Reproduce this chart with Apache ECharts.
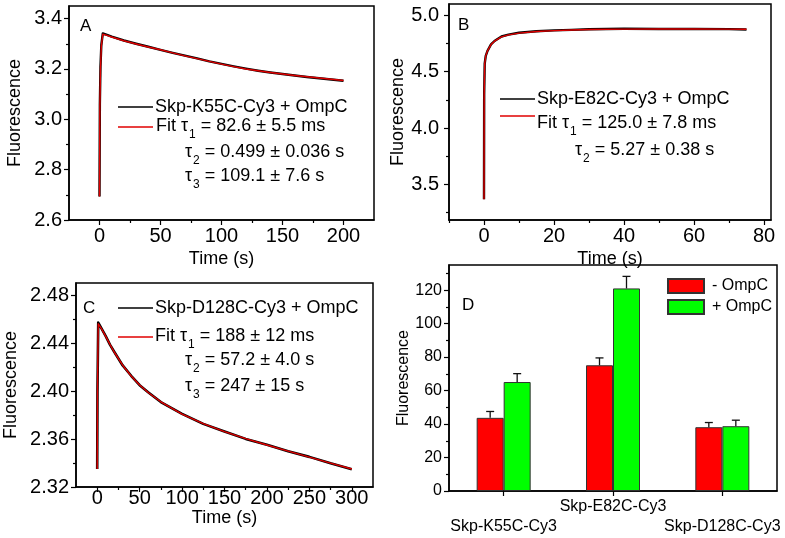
<!DOCTYPE html>
<html><head><meta charset="utf-8">
<script src="https://cdn.jsdelivr.net/npm/echarts@6/dist/echarts.min.js"></script>
<style>html,body{margin:0;padding:0;background:#fff}#c{width:785px;height:538px}</style>
</head><body><div id="c"></div>
<script>
// ---------- Panel A : Skp-K55C-Cy3 + OmpC ----------
const timeA = [0, 0.3, 0.8, 1.5, 2.7, 5, 10, 20, 30, 40, 50, 60, 70, 80, 90, 100, 110, 120, 130, 140, 150, 160, 170, 180, 190, 200];
const dataA = [2.693, 3.06, 3.21, 3.295, 3.341, 3.337, 3.328, 3.313, 3.300, 3.288, 3.276, 3.264, 3.253, 3.242, 3.230, 3.220, 3.210, 3.201, 3.193, 3.186, 3.180, 3.174, 3.168, 3.163, 3.158, 3.153];
const fitA  = [2.693, 3.05, 3.20, 3.29, 3.338, 3.335, 3.327, 3.312, 3.299, 3.287, 3.276, 3.264, 3.252, 3.241, 3.230, 3.219, 3.209, 3.200, 3.193, 3.186, 3.180, 3.174, 3.169, 3.164, 3.159, 3.154];
const xTicksA = [0, 50, 100, 150, 200];
const xMinorA = [25, 75, 125, 175];
const yTicksA = [2.6, 2.8, 3.0, 3.2, 3.4];
const yMinorA = [2.7, 2.9, 3.1, 3.3];

// ---------- Panel B : Skp-E82C-Cy3 + OmpC ----------
const timeB = [0, 0.05, 0.2, 0.5, 1, 2, 3, 5, 7, 10, 15, 20, 25, 30, 40, 50, 60, 70, 75];
const dataB = [3.37, 4.30, 4.57, 4.64, 4.685, 4.742, 4.772, 4.812, 4.829, 4.845, 4.858, 4.866, 4.871, 4.876, 4.880, 4.879, 4.879, 4.877, 4.874];
const fitB  = [3.37, 4.30, 4.57, 4.64, 4.685, 4.740, 4.770, 4.808, 4.826, 4.842, 4.856, 4.864, 4.870, 4.874, 4.877, 4.878, 4.878, 4.877, 4.876];
const xTicksB = [0, 20, 40, 60, 80];
const xMinorB = [-10, 10, 30, 50, 70];
const yTicksB = [3.5, 4.0, 4.5, 5.0];
const yMinorB = [3.25, 3.75, 4.25, 4.75];

// ---------- Panel C : Skp-D128C-Cy3 + OmpC ----------
const timeC = [0, 0.3, 1.2, 5, 10, 15, 20, 30, 40, 50, 60, 75, 100, 125, 150, 175, 200, 225, 250, 275, 300];
const dataC = [2.335, 2.40, 2.457, 2.4522, 2.4457, 2.4386, 2.4327, 2.4213, 2.4127, 2.4048, 2.3990, 2.3908, 2.3810, 2.3726, 2.3663, 2.3601, 2.3552, 2.3497, 2.3451, 2.3397, 2.3348];
const fitC  = [2.335, 2.40, 2.456, 2.4520, 2.4455, 2.4388, 2.4325, 2.4215, 2.4125, 2.4050, 2.3988, 2.3910, 2.3808, 2.3728, 2.3661, 2.3603, 2.3550, 2.3499, 2.3449, 2.3399, 2.3350];
const xTicksC = [0, 50, 100, 150, 200, 250, 300];
const xMinorC = [25, 75, 125, 175, 225, 275];
const yTicksC = [2.32, 2.36, 2.40, 2.44, 2.48];
const yMinorC = [2.34, 2.38, 2.42, 2.46];

// ---------- Panel D : bar chart ----------
const categoriesD = ['Skp-K55C-Cy3', 'Skp-E82C-Cy3', 'Skp-D128C-Cy3'];
const minusOmpC = [43.7, 75.1, 38.1];
const minusOmpCErr = [3.8, 4.4, 2.8];
const plusOmpC = [65.1, 121.0, 38.7];
const plusOmpCErr = [5.0, 7.2, 3.6];
const yTicksD = [0, 20, 40, 60, 80, 100, 120];
const yMinorD = [10, 30, 50, 70, 90, 110, 130];

// ---------- styling ----------
const ff = 'Liberation Sans, Arial, Helvetica, sans-serif';
const ink = '#000';
const BAR_W = 27, CAP_W = 8;

function zip(t, v) { return t.map((x, i) => [x, v[i]]); }

function axisPair(dim, grid, min, max, majors, minors, fmt, cfg) {
  const pos = dim === 'x' ? 'bottom' : 'left';
  const main = {
    type: 'value', gridIndex: grid, position: pos, min: min, max: max,
    axisLine: { show: true, onZero: false, lineStyle: { color: ink, width: 1.5 } },
    axisTick: { show: true, customValues: majors, length: 5, lineStyle: { color: ink, width: 1.2 } },
    axisLabel: { show: true, customValues: majors, formatter: fmt, fontSize: cfg.fontSize, color: ink, fontFamily: ff, margin: cfg.margin },
    splitLine: { show: false },
    name: cfg.name, nameLocation: 'middle', nameGap: cfg.nameGap,
    nameTextStyle: { fontSize: cfg.nameSize, color: ink, fontFamily: ff }
  };
  const minor = {
    type: 'value', gridIndex: grid, position: pos, min: min, max: max,
    axisLine: { show: false, onZero: false },
    axisTick: { show: true, customValues: minors, length: 3, lineStyle: { color: ink, width: 1.2 } },
    axisLabel: { show: false }, splitLine: { show: false }
  };
  return [main, minor];
}

const f1 = v => v.toFixed(1), f2 = v => v.toFixed(2), f0 = v => String(Math.round(v));

const xAxes = [
  ...axisPair('x', 0, -25, 225, xTicksA, xMinorA, f0, { fontSize: 20, margin: 6, name: 'Time (s)', nameGap: 30, nameSize: 18 }),
  ...axisPair('x', 1, -10, 82, xTicksB, xMinorB, f0, { fontSize: 20, margin: 6, name: 'Time (s)', nameGap: 30, nameSize: 18 }),
  ...axisPair('x', 2, -25, 325, xTicksC, xMinorC, f0, { fontSize: 20, margin: 1, name: 'Time (s)', nameGap: 19, nameSize: 18 }),
  {
    type: 'category', gridIndex: 3, position: 'bottom', data: categoriesD,
    axisLine: { show: true, lineStyle: { color: ink, width: 1.5 } },
    axisTick: { show: true, alignWithLabel: true, length: 5, lineStyle: { color: ink, width: 1.2 } },
    axisLabel: { interval: 0, fontSize: 16, lineHeight: 20, color: ink, fontFamily: ff, margin: 6,
      formatter: (v, i) => i === 1 ? v : '\n' + v },
    splitLine: { show: false }
  }
];
const yAxes = [
  ...axisPair('y', 0, 2.6, 3.45, yTicksA, yMinorA, f1, { fontSize: 20, margin: 7, name: 'Fluorescence', nameGap: 45, nameSize: 18 }),
  ...axisPair('y', 1, 3.185, 5.1, yTicksB, yMinorB, f1, { fontSize: 20, margin: 10, name: 'Fluorescence', nameGap: 42, nameSize: 18 }),
  ...axisPair('y', 2, 2.32, 2.49, yTicksC, yMinorC, f2, { fontSize: 20, margin: 7, name: 'Fluorescence', nameGap: 56, nameSize: 18 }),
  ...axisPair('y', 3, 0, 135, yTicksD, yMinorD, f0, { fontSize: 16, margin: 7, name: 'Fluorescence', nameGap: 35, nameSize: 16 })
];

function lineSeries(xi, yi, t, v, color, width, z) {
  return { type: 'line', xAxisIndex: xi, yAxisIndex: yi, data: zip(t, v), symbol: 'none',
    smooth: false, lineStyle: { color: color, width: width, join: 'round' }, z: z, silent: true, animation: false };
}

const errData = [];
categoriesD.forEach((c, i) => {
  errData.push([i, minusOmpC[i], minusOmpCErr[i], -1]);
  errData.push([i, plusOmpC[i], plusOmpCErr[i], 1]);
});

const tauRich = {
  m: { fontSize: 18, lineHeight: 20, verticalAlign: 'top', fontFamily: ff, color: ink },
  s: { fontSize: 12, lineHeight: 12, padding: [12, 0, 0, 1], verticalAlign: 'top', fontFamily: ff, color: ink }
};
function tauText(x, cy, prefix, idx, rest) {
  return { type: 'text', x: x, y: cy - 10, style: {
    text: '{m|' + prefix + 'τ}{s|' + idx + '}{m| = ' + rest + '}', rich: tauRich,
    verticalAlign: 'top', fill: ink, fontFamily: ff, fontSize: 18 } };
}
function plainText(x, cy, txt, size) {
  return { type: 'text', x: x, y: cy, style: { text: txt, fontSize: size, fontFamily: ff, fill: ink, verticalAlign: 'middle' } };
}
function sampleLine(x1, x2, y, color) {
  return { type: 'line', shape: { x1: x1, y1: y, x2: x2, y2: y }, style: { stroke: color, lineWidth: 1.6 } };
}

const graphics = [
  // panel letters
  { type: 'text', x: 80, y: 18, style: { text: 'A', fontSize: 17, fontFamily: ff, fill: ink } },
  { type: 'text', x: 458, y: 17, style: { text: 'B', fontSize: 17, fontFamily: ff, fill: ink } },
  { type: 'text', x: 83, y: 300, style: { text: 'C', fontSize: 17, fontFamily: ff, fill: ink } },
  { type: 'text', x: 462, y: 297, style: { text: 'D', fontSize: 17, fontFamily: ff, fill: ink } },
  // legend A
  sampleLine(118, 153, 107, '#000'), sampleLine(118, 153, 127, '#e00000'),
  plainText(155, 107, 'Skp-K55C-Cy3 + OmpC', 18),
  tauText(156, 127, 'Fit ', '1', '82.6 ± 5.5 ms'),
  tauText(185, 153, '', '2', '0.499 ± 0.036 s'),
  tauText(185, 177, '', '3', '109.1 ± 7.6 s'),
  // legend B
  sampleLine(500, 535, 99, '#000'), sampleLine(500, 535, 116, '#e00000'),
  plainText(537, 99.5, 'Skp-E82C-Cy3 + OmpC', 18),
  tauText(537, 124, 'Fit ', '1', '125.0 ± 7.8 ms'),
  tauText(575, 151, '', '2', '5.27 ± 0.38 s'),
  // legend C
  sampleLine(118, 153, 308, '#000'), sampleLine(118, 153, 337, '#e00000'),
  plainText(155, 308, 'Skp-D128C-Cy3 + OmpC', 18),
  tauText(155, 337, 'Fit ', '1', '188 ± 12 ms'),
  tauText(185, 361, '', '2', '57.2 ± 4.0 s'),
  tauText(185, 387, '', '3', '247 ± 15 s')
];

const chart = echarts.init(document.getElementById('c'), null, { renderer: 'canvas' });
chart.setOption({
  animation: false,
  backgroundColor: '#fff',
  textStyle: { fontFamily: ff },
  grid: [
    { left: 69, top: 6, width: 305, height: 214, show: true, borderColor: ink, borderWidth: 1.5 },
    { left: 449, top: 4, width: 322, height: 216, show: true, borderColor: ink, borderWidth: 1.5 },
    { left: 76, top: 283, width: 297, height: 204, show: true, borderColor: ink, borderWidth: 1.5 },
    { left: 449, top: 265, width: 328, height: 226, show: true, borderColor: ink, borderWidth: 1.5 }
  ],
  xAxis: xAxes,
  yAxis: yAxes,
  legend: {
    data: ['- OmpC', '+ OmpC'], orient: 'vertical', left: 667, top: 278, padding: 0,
    itemWidth: 36, itemHeight: 14, itemGap: 5, icon: 'rect', selectedMode: false,
    textStyle: { fontSize: 16, fontFamily: ff, color: ink, padding: [0, 0, 0, 3] }
  },
  graphic: graphics,
  series: [
    lineSeries(0, 0, timeA, dataA, '#000', 2.4, 2),
    lineSeries(0, 0, timeA, fitA, '#e00000', 1.4, 3),
    lineSeries(2, 2, timeB, dataB, '#000', 2.4, 2),
    lineSeries(2, 2, timeB, fitB, '#e00000', 1.4, 3),
    lineSeries(4, 4, timeC, dataC, '#000', 2.6, 2),
    lineSeries(4, 4, timeC, fitC, '#e00000', 1.4, 3),
    { type: 'bar', name: '- OmpC', xAxisIndex: 6, yAxisIndex: 6, data: minusOmpC, barWidth: BAR_W, barGap: '0%',
      itemStyle: { color: '#ff0000', borderColor: '#333', borderWidth: 1 }, silent: true },
    { type: 'bar', name: '+ OmpC', xAxisIndex: 6, yAxisIndex: 6, data: plusOmpC, barWidth: BAR_W, barGap: '0%',
      itemStyle: { color: '#00ff00', borderColor: '#333', borderWidth: 1 }, silent: true },
    { type: 'custom', xAxisIndex: 6, yAxisIndex: 6, data: errData, z: 5, silent: true,
      encode: { x: 0, y: 1 },
      renderItem: function (params, api) {
        const cat = api.value(0), val = api.value(1), err = api.value(2), side = api.value(3);
        const base = api.coord([cat, val]);
        const top = api.coord([cat, val + err]);
        const x = base[0] + side * BAR_W / 2;
        const st = { stroke: '#111', lineWidth: 1.3 };
        return { type: 'group', children: [
          { type: 'line', shape: { x1: x, y1: base[1], x2: x, y2: top[1] }, style: st },
          { type: 'line', shape: { x1: x - CAP_W / 2, y1: top[1], x2: x + CAP_W / 2, y2: top[1] }, style: st }
        ] };
      }
    }
  ]
});
</script>
</body></html>
